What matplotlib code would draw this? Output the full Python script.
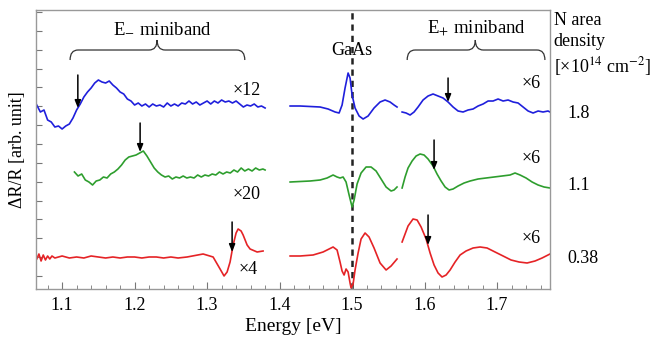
import matplotlib
matplotlib.use("Agg")
import matplotlib.pyplot as plt
import numpy as np
from matplotlib.path import Path
from matplotlib.patches import PathPatch
from matplotlib.ticker import MultipleLocator, FixedLocator

plt.rcParams['font.family'] = ['Liberation Serif', 'DejaVu Serif']
plt.rcParams['mathtext.fontset'] = 'stix'

blue_c, green_c, red_c = "#1f1fdc", "#2e9e2e", "#e52326"

# ---- spectra (energy in eV, dR/R in arb. units, already offset) ----
# N = 1.8e14 cm^-2
blue_low_e = [1.065, 1.070, 1.075, 1.080, 1.085, 1.090, 1.095, 1.100, 1.105, 1.110, 1.115, 1.120,
              1.125, 1.130, 1.135, 1.140, 1.145, 1.150, 1.155, 1.160, 1.165, 1.170, 1.175, 1.180,
              1.185, 1.190, 1.195, 1.200, 1.205, 1.210, 1.215, 1.220, 1.225, 1.230, 1.235, 1.240,
              1.245, 1.250, 1.255, 1.260, 1.265, 1.270, 1.275, 1.280, 1.285, 1.290, 1.295, 1.300,
              1.305, 1.310, 1.315, 1.320, 1.325, 1.330, 1.335, 1.340, 1.345, 1.350, 1.355, 1.360,
              1.365, 1.370, 1.375, 1.380]
blue_low_v = [19.5, 18.8, 19.0, 18.0, 17.8, 17.3, 17.4, 17.1, 17.4, 17.6, 18.2, 19.0,
              19.6, 20.3, 20.8, 21.2, 21.7, 22.0, 21.8, 21.7, 21.9, 21.5, 21.2, 20.8,
              20.6, 20.1, 19.9, 19.5, 19.7, 19.4, 19.6, 19.3, 19.6, 19.4, 19.5, 19.3,
              19.7, 19.4, 19.6, 19.4, 19.7, 19.6, 19.9, 19.6, 19.8, 19.5, 19.7, 19.9,
              19.6, 19.9, 19.7, 20.0, 19.8, 19.9, 19.7, 19.9, 19.6, 19.3, 19.5, 19.4,
              19.6, 19.3, 19.4, 19.2]
blue_mid_e = [1.4145, 1.4283, 1.4421, 1.4559, 1.4669, 1.4766, 1.4821, 1.4862, 1.4903, 1.4945,
              1.4972, 1.5000, 1.5041, 1.5097, 1.5152, 1.5221, 1.5303, 1.5386, 1.5455, 1.5524,
              1.5579, 1.5620]
blue_mid_v = [19.4, 19.4, 19.35, 19.3, 19.1, 18.8, 18.7, 19.5, 21.2, 22.7,
              22.2, 20.5, 19.2, 18.4, 18.1, 18.4, 19.2, 19.8, 20.0, 19.8,
              19.5, 19.3]
blue_high_e = [1.569, 1.5745, 1.580, 1.5855, 1.591, 1.5979, 1.6048, 1.6117, 1.6186, 1.6255,
               1.6324, 1.6393, 1.6462, 1.6531, 1.660, 1.6669, 1.6738, 1.6807, 1.6876, 1.6945,
               1.7014, 1.7083, 1.7152, 1.7221, 1.729, 1.7359, 1.7428, 1.7497, 1.7566, 1.7634,
               1.7703, 1.773]
blue_high_v = [18.8, 18.7, 18.5, 18.8, 19.3, 20.0, 20.4, 20.6, 20.4, 20.2,
               19.8, 19.3, 18.9, 18.8, 19.0, 19.1, 19.4, 19.6, 19.9, 19.9,
               20.1, 19.9, 20.0, 19.8, 19.7, 19.3, 18.9, 18.7, 18.9, 18.8,
               18.9, 18.8]

# N = 1.1e14 cm^-2
green_low_e = [1.117, 1.122, 1.127, 1.132, 1.137, 1.142, 1.147, 1.152, 1.157, 1.162, 1.167, 1.172,
               1.177, 1.182, 1.187, 1.192, 1.197, 1.202, 1.207, 1.212, 1.217, 1.222, 1.227, 1.232,
               1.237, 1.242, 1.247, 1.252, 1.257, 1.262, 1.267, 1.272, 1.277, 1.282, 1.287, 1.292,
               1.297, 1.302, 1.307, 1.312, 1.317, 1.322, 1.327, 1.332, 1.337, 1.342, 1.347, 1.352,
               1.357, 1.362, 1.367, 1.372, 1.377, 1.380]
green_low_v = [12.8, 12.4, 12.6, 12.0, 11.8, 11.5, 11.9, 12.0, 12.3, 12.2, 12.6, 12.8,
               13.1, 13.5, 14.0, 14.3, 14.4, 14.5, 14.7, 14.9, 14.4, 13.8, 13.2, 12.8,
               12.5, 12.3, 12.4, 12.1, 12.3, 12.2, 12.4, 12.2, 12.3, 12.2, 12.5, 12.3,
               12.5, 12.4, 12.6, 12.5, 12.8, 12.6, 12.8, 12.7, 13.0, 12.8, 13.2, 12.9,
               13.1, 12.9, 13.2, 13.0, 13.1, 13.0]
green_mid_e = [1.4145, 1.4283, 1.4421, 1.4559, 1.4655, 1.4738, 1.4793, 1.4834, 1.4876, 1.4917,
               1.4959, 1.5000, 1.5028, 1.5069, 1.5124, 1.5193, 1.5262, 1.5331, 1.5400, 1.5469,
               1.5538, 1.5579, 1.5620]
green_mid_v = [11.8, 11.85, 11.9, 12.0, 12.2, 12.5, 12.3, 12.2, 12.3, 11.8,
               10.5, 9.3, 10.0, 11.6, 12.7, 13.3, 13.3, 12.9, 12.1, 11.3,
               10.9, 11.0, 11.3]
green_high_e = [1.569, 1.5731, 1.5772, 1.5828, 1.5883, 1.5938, 1.5993, 1.6048, 1.6117, 1.6172,
                1.6228, 1.6283, 1.6338, 1.6393, 1.6462, 1.6545, 1.6628, 1.6738, 1.6848, 1.6959,
                1.7069, 1.7179, 1.7248, 1.7317, 1.740, 1.7483, 1.7566, 1.7648, 1.773]
green_high_v = [11.2, 12.3, 13.2, 13.9, 14.4, 14.6, 14.5, 14.1, 13.4, 12.6,
                11.9, 11.3, 11.0, 11.1, 11.4, 11.7, 11.9, 12.1, 12.2, 12.3,
                12.4, 12.5, 12.7, 12.5, 12.2, 11.8, 11.5, 11.3, 11.2]

# N = 0.38e14 cm^-2
red_low_e = [1.065, 1.068, 1.071, 1.074, 1.077, 1.080, 1.083, 1.086, 1.090, 1.100, 1.110, 1.120,
             1.130, 1.140, 1.150, 1.160, 1.170, 1.180, 1.190, 1.200, 1.210, 1.220, 1.230, 1.240,
             1.250, 1.260, 1.2724, 1.2945, 1.3083, 1.3179, 1.3234, 1.3276, 1.3317, 1.3359,
             1.340, 1.3428, 1.3469, 1.3497, 1.3552, 1.3593, 1.369, 1.3772]
red_low_v = [4.1, 4.6, 3.9, 4.5, 4.0, 4.4, 4.1, 4.4, 4.2, 4.4, 4.2, 4.3,
             4.2, 4.4, 4.3, 4.2, 4.3, 4.2, 4.3, 4.3, 4.2, 4.3, 4.3, 4.2,
             4.3, 4.2, 4.3, 4.6, 4.3, 3.1, 2.4, 2.8, 3.8, 5.5,
             6.7, 7.1, 6.9, 6.5, 5.5, 5.1, 4.8, 4.9]
red_mid_e = [1.4145, 1.4283, 1.4462, 1.4600, 1.4738, 1.4793, 1.4834, 1.4862, 1.4890, 1.4917,
             1.4945, 1.4972, 1.4986, 1.5014, 1.5041, 1.5083, 1.5124, 1.5179, 1.5234, 1.5303,
             1.5386, 1.5469, 1.5538, 1.5620]
red_mid_v = [4.4, 4.4, 4.5, 4.8, 5.3, 5.0, 3.8, 2.9, 2.5, 3.1,
             2.8, 1.7, 1.2, 1.6, 3.0, 4.7, 6.1, 6.7, 6.3, 5.2,
             3.7, 3.0, 3.4, 4.1]
red_high_e = [1.569, 1.5731, 1.5772, 1.5841, 1.5897, 1.5952, 1.6021, 1.6076, 1.6131, 1.6186,
              1.6241, 1.6297, 1.6352, 1.6421, 1.649, 1.6572, 1.6669, 1.6766, 1.6862, 1.6972,
              1.7083, 1.7193, 1.7303, 1.7414, 1.7524, 1.7621, 1.773]
red_high_v = [5.8, 6.6, 7.4, 8.1, 8.0, 7.3, 6.1, 4.7, 3.5, 2.7,
              2.3, 2.5, 3.0, 3.8, 4.5, 4.9, 5.2, 5.3, 5.2, 4.8,
              4.4, 4.0, 3.8, 3.7, 3.9, 4.2, 4.6]

# arrows: (energy, tail, head)
arrow_e = [1.1217, 1.2076, 1.3345, 1.6324, 1.6131, 1.6048]
arrow_tail = [22.5, 17.7, 7.8, 22.2, 16.0, 8.5]
arrow_head = [19.2, 14.8, 4.8, 19.8, 13.0, 5.5]

scale_labels = ["×12", "×20", "×4", "×6", "×6", "×6"]
scale_e = [1.355, 1.355, 1.356, 1.747, 1.747, 1.747]
scale_y = [21.0, 10.5, 3.0, 21.7, 14.2, 6.1]

densities = ["1.8", "1.1", "0.38"]
density_y = [18.7, 11.5, 4.1]


def draw_brace(ax, x0, x1, xc, y_end, y_h, y_cusp, dx=0.011):
    verts = [(x0, y_end), (x0, y_h), (x0 + dx, y_h),
             (xc - dx, y_h), (xc, y_h), (xc, y_cusp),
             (xc, y_h), (xc + dx, y_h),
             (x1 - dx, y_h), (x1, y_h), (x1, y_end)]
    codes = [Path.MOVETO, Path.CURVE3, Path.CURVE3,
             Path.LINETO, Path.CURVE3, Path.CURVE3,
             Path.CURVE3, Path.CURVE3,
             Path.LINETO, Path.CURVE3, Path.CURVE3]
    ax.add_patch(PathPatch(Path(verts, codes), fill=False, lw=0.9, color="#333333"))


fig = plt.figure(figsize=(6.56, 3.44), dpi=100)
ax = fig.add_axes([0.0549, 0.1599, 0.7835, 0.8110])

for e, v, c in [(blue_low_e, blue_low_v, blue_c), (blue_mid_e, blue_mid_v, blue_c),
                (blue_high_e, blue_high_v, blue_c),
                (green_low_e, green_low_v, green_c), (green_mid_e, green_mid_v, green_c),
                (green_high_e, green_high_v, green_c),
                (red_low_e, red_low_v, red_c), (red_mid_e, red_mid_v, red_c),
                (red_high_e, red_high_v, red_c)]:
    ax.plot(e, v, color=c, lw=1.2)

ax.axvline(1.5, color="#222222", lw=1.8, ls=(0, (2.5, 2)), zorder=1)

for e, t, h in zip(arrow_e, arrow_tail, arrow_head):
    ax.annotate("", xy=(e, h), xytext=(e, t),
                arrowprops=dict(arrowstyle="-|>,head_length=0.45,head_width=0.18",
                                color="black", lw=1.1, shrinkA=0, shrinkB=0))

for s, e, y in zip(scale_labels, scale_e, scale_y):
    ax.text(e, y, s, ha="center", va="center", fontsize=13)

draw_brace(ax, 1.111, 1.352, 1.231, 24.0, 25.0, 26.0)
draw_brace(ax, 1.576, 1.766, 1.670, 24.0, 25.0, 26.0)
ax.text(1.238, 27.2, "E$_{-}$ miniband", ha="center", va="center", fontsize=13.5)
ax.text(1.672, 27.2, "E$_{+}$ miniband", ha="center", va="center", fontsize=13.5)
ax.text(1.5, 25.0, "GaAs", ha="center", va="center", fontsize=13)

ax.text(1.778, 28.8, "N area\ndensity\n[×10$^{14}$ cm$^{-2}$]", ha="left", va="top",
        fontsize=13, linespacing=1.3, clip_on=False)
for s, y in zip(densities, density_y):
    ax.text(1.7966, y, s, ha="left", va="center", fontsize=13, clip_on=False)

ax.set_xlim(1.064, 1.773)
ax.set_ylim(1.1, 29.0)
ax.xaxis.set_major_locator(MultipleLocator(0.1))
ax.xaxis.set_minor_locator(MultipleLocator(0.02))
ax.yaxis.set_major_locator(FixedLocator(np.arange(2.4, 29.0, 1.886)))
ax.set_yticklabels([])
ax.tick_params(axis="both", which="both", direction="in", color="#777777")
ax.tick_params(axis="x", which="major", length=5, labelsize=13, pad=6)
ax.tick_params(axis="x", which="minor", length=3)
ax.tick_params(axis="y", which="major", length=4)
for sp in ax.spines.values():
    sp.set_color("#999999")
    sp.set_linewidth(1.0)

ax.set_xlabel("Energy [eV]", fontsize=14, labelpad=3)
ax.set_ylabel("ΔR/R [arb. unit]", fontsize=13, labelpad=4)

fig.savefig("out.png", dpi=100)
